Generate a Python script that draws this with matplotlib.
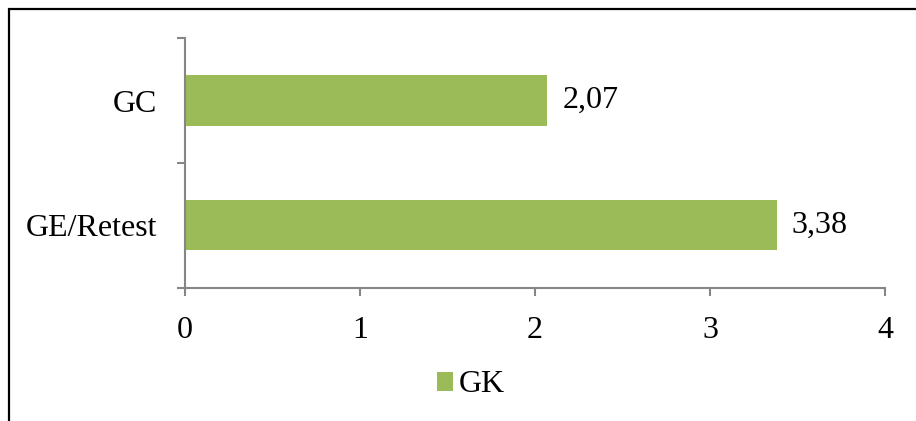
import matplotlib
matplotlib.use("Agg")
import matplotlib.pyplot as plt
from matplotlib.patches import Rectangle
from matplotlib.ticker import FixedLocator

categories = ["GE/Retest", "GC"]
values = [3.38, 2.07]
value_labels = ["3,38", "2,07"]
series_name = "GK"
x_ticks = [0, 1, 2, 3, 4]

plt.rcParams["font.family"] = ["Liberation Serif", "DejaVu Serif"]

W, H = 916, 421
FS = 23
fig = plt.figure(figsize=(W / 100, H / 100), dpi=100)
ax = fig.add_axes([185 / W, 1 - 288 / H, 700 / W, 250 / H])

green = "#9BBB59"
axis_gray = "#868686"

ypos = list(range(len(categories)))
bars = ax.barh(ypos, values, height=0.4, color=green, label=series_name)

for y, v, lab in zip(ypos, values, value_labels):
    ax.annotate(lab, xy=(v, y), xytext=(11, 0), textcoords="offset points",
                ha="left", va="center", fontsize=FS)

ax.set_xlim(0, 4)
ax.set_ylim(-0.5, len(categories) - 0.5)
ax.set_xticks(x_ticks)
ax.set_xticklabels([str(t) for t in x_ticks], fontsize=FS)
ax.set_yticks(ypos)
ax.set_yticklabels(categories, fontsize=FS)
ax.yaxis.set_minor_locator(FixedLocator([-0.5, 0.5, 1.5]))

ax.tick_params(axis="y", which="major", length=0, pad=20)
ax.tick_params(axis="y", which="minor", length=6, width=1.5, color=axis_gray)
ax.tick_params(axis="x", which="major", length=6, width=1.5, color=axis_gray, pad=14)

for side in ("top", "right"):
    ax.spines[side].set_visible(False)
for side in ("left", "bottom"):
    ax.spines[side].set_color(axis_gray)
    ax.spines[side].set_linewidth(1.5)

leg = fig.legend(handles=[bars], labels=[series_name], loc="center",
                 bbox_to_anchor=(471 / W, 1 - 385 / H), frameon=False,
                 fontsize=FS, handlelength=0.5, handleheight=0.55,
                 handletextpad=0.2)

# outer chart border (extends past the right and bottom edges)
frame = Rectangle((9 / W, -0.1), 1.2, 1 - 9.5 / H + 0.1, transform=fig.transFigure,
                  fill=False, edgecolor="black", linewidth=1.6)
fig.patches.append(frame)

fig.savefig("out.png", dpi=100)
